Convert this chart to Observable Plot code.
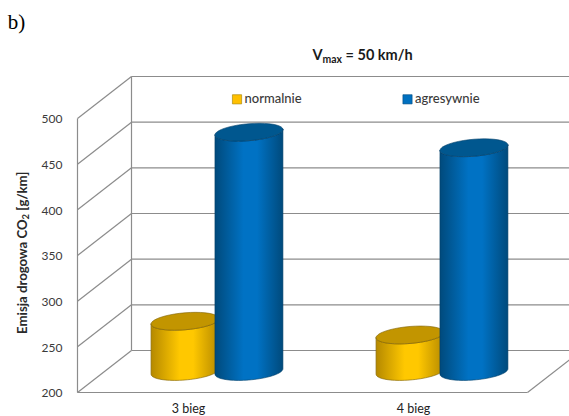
<!DOCTYPE html>
<html>
<head>
<meta charset="utf-8">
<script src="https://cdn.jsdelivr.net/npm/d3@7"></script>
<script src="https://cdn.jsdelivr.net/npm/@observablehq/plot@0.6"></script>
<style>
  html, body { margin: 0; padding: 0; background: #fff; overflow: hidden; }
</style>
</head>
<body>
<div id="chart"></div>
<script>
// Road CO2 emission by gear and driving style
const gears = ["3 bieg", "4 bieg"];
const styles = ["normalnie", "agresywnie"];
const normalValues = [255, 240];
const aggressiveValues = [462, 445];
const yTicks = [200, 250, 300, 350, 400, 450, 500];

// Depth of the box, expressed in scale units
const depthX = 0.24;
const depthY = 46;
const xEnd = gears.length;

// Cylinder footprint, also in scale units
const radiusX = 0.151;
const radiusY = 9.3;
const tilt = 3;
const barOffset = 0.142;

const sans = "Lato, 'Open Sans', sans-serif";

const bars = gears.flatMap((gear, i) => [
  {gear, style: styles[0], value: normalValues[i], cx: i + 0.5 - barOffset + depthX / 2, body: "url(#goldBody)", cap: "#c29500", edge: "#7d6000"},
  {gear, style: styles[1], value: aggressiveValues[i], cx: i + 0.5 + barOffset + depthX / 2, body: "url(#blueBody)", cap: "#00578f", edge: "#003e68"}
]);

const base = 200 + depthY / 2;
const ring = (b, yc, from, to, n = 40) =>
  d3.range(n + 1).map((k) => {
    const t = from + ((to - from) * k) / n;
    return {id: b.gear + b.style, x: b.cx + radiusX * Math.cos(t), y: yc + radiusY * Math.sin(t) + tilt * Math.cos(t)};
  });
const topOf = (b) => base + b.value - 200;
const bodyShape = (b) => [...ring(b, base, Math.PI, 2 * Math.PI), ...ring(b, topOf(b), 2 * Math.PI, Math.PI)];
const capShape = (b) => ring(b, topOf(b), 0, 2 * Math.PI);

const gradients = () => {
  const defs = d3.create("svg:defs");
  const add = (id, edge, mid) => {
    const g = defs.append("linearGradient").attr("id", id).attr("x1", 0).attr("x2", 1).attr("y1", 0).attr("y2", 0);
    [[0, edge], [0.42, mid], [0.62, mid], [1, edge]].forEach(([o, c]) =>
      g.append("stop").attr("offset", o).attr("stop-color", c));
  };
  add("goldBody", "#b58900", "#ffc800");
  add("blueBody", "#004a7c", "#0072c4");
  return defs.node();
};

const wallLines = [
  ...yTicks.map((v) => ({x1: 0, y1: v, x2: depthX, y2: v + depthY})),
  ...yTicks.map((v) => ({x1: depthX, y1: v + depthY, x2: xEnd + depthX, y2: v + depthY})),
  {x1: 0, y1: 200, x2: 0, y2: 500},
  {x1: depthX, y1: 200 + depthY, x2: depthX, y2: 500 + depthY},
  {x1: 0, y1: 200, x2: xEnd, y2: 200},
  {x1: xEnd, y1: 200, x2: xEnd + depthX, y2: 200 + depthY}
];

const barMarks = bars.flatMap((b) => [
  Plot.line(bodyShape(b), {x: "x", y: "y", z: "id", curve: "linear-closed", fill: b.body, stroke: b.edge, strokeWidth: 0.6}),
  Plot.line(capShape(b), {x: "x", y: "y", z: "id", curve: "linear-closed", fill: b.cap, stroke: b.edge, strokeWidth: 0.6})
]);

const svg = Plot.plot({
  width: 569,
  height: 416,
  marginLeft: 77,
  marginRight: 42,
  marginTop: 118,
  marginBottom: 24,
  style: {overflow: "hidden", background: "#fff"},
  x: {type: "linear", domain: [0, xEnd], axis: null},
  y: {type: "linear", domain: [200, 500], axis: null},
  marks: [
    gradients,
    Plot.link(wallLines, {x1: "x1", y1: "y1", x2: "x2", y2: "y2", stroke: "#8c8c8c", strokeWidth: 1.2}),
    ...barMarks,
    Plot.axisY({ticks: yTicks, anchor: "left", tickSize: 0, tickPadding: 15, label: null, dy: 1,
      fontFamily: sans, fontSize: 12, fill: "#3a3a3a"}),
    Plot.axisX({ticks: gears.map((g, i) => i + 0.5), tickFormat: (d) => gears[Math.floor(d)], anchor: "bottom",
      tickSize: 0, tickPadding: 12, label: null, dx: -1.5, fontFamily: sans, fontSize: 12.5, fill: "#222", letterSpacing: 0.4}),
    Plot.dot(styles, {x: [0.709, 1.4667], y: [521, 521], symbol: "square", r: 5.2,
      fill: ["#ffc000", "#0070c0"], stroke: ["#a08000", "#004a80"], strokeWidth: 0.6}),
    Plot.text(styles, {x: [0.709, 1.4667], y: [521, 521], text: (d) => d, textAnchor: "start", dx: 7.5, dy: -0.5,
      fontFamily: sans, fontSize: 13, fontWeight: 500, fill: "#3a3a3a", letterSpacing: 1.35}),
    Plot.text(["Vmax = 50 km/h"], {x: 1.267, y: 569, text: (d) => d, textAnchor: "middle",
      fontFamily: sans, fontSize: 14.5, fontWeight: 700, fill: "#1a1a1a"}),
    Plot.text(["Emisja drogowa CO2 [g/km]"], {x: -0.245, y: 353, text: (d) => d, rotate: -90, textAnchor: "middle",
      fontFamily: sans, fontSize: 13.2, fontWeight: 700, fill: "#2a2a2a"}),
    Plot.text(["b)"], {x: -0.31, y: 605, text: (d) => d, textAnchor: "start",
      fontFamily: "'Liberation Serif', serif", fontSize: 21, fill: "#000"})
  ]
});

// Subscripts in the chart title and the axis title
const subscript = (full, head, sub, tail) => {
  d3.select(svg).selectAll("text").filter(function () { return this.textContent === full; }).each(function () {
    const node = d3.select(this);
    const holder = node.select("tspan").empty() ? node : node.select("tspan");
    holder.text(null);
    holder.append("tspan").text(head);
    holder.append("tspan").attr("dy", "0.3em").attr("font-size", "0.72em").text(sub);
    holder.append("tspan").attr("dy", "-0.22em").text(tail);
  });
};
subscript("Vmax = 50 km/h", "V", "max", " = 50 km/h");
subscript("Emisja drogowa CO2 [g/km]", "Emisja drogowa CO", "2", " [g/km]");

document.getElementById("chart").appendChild(svg);
</script>
</body>
</html>
